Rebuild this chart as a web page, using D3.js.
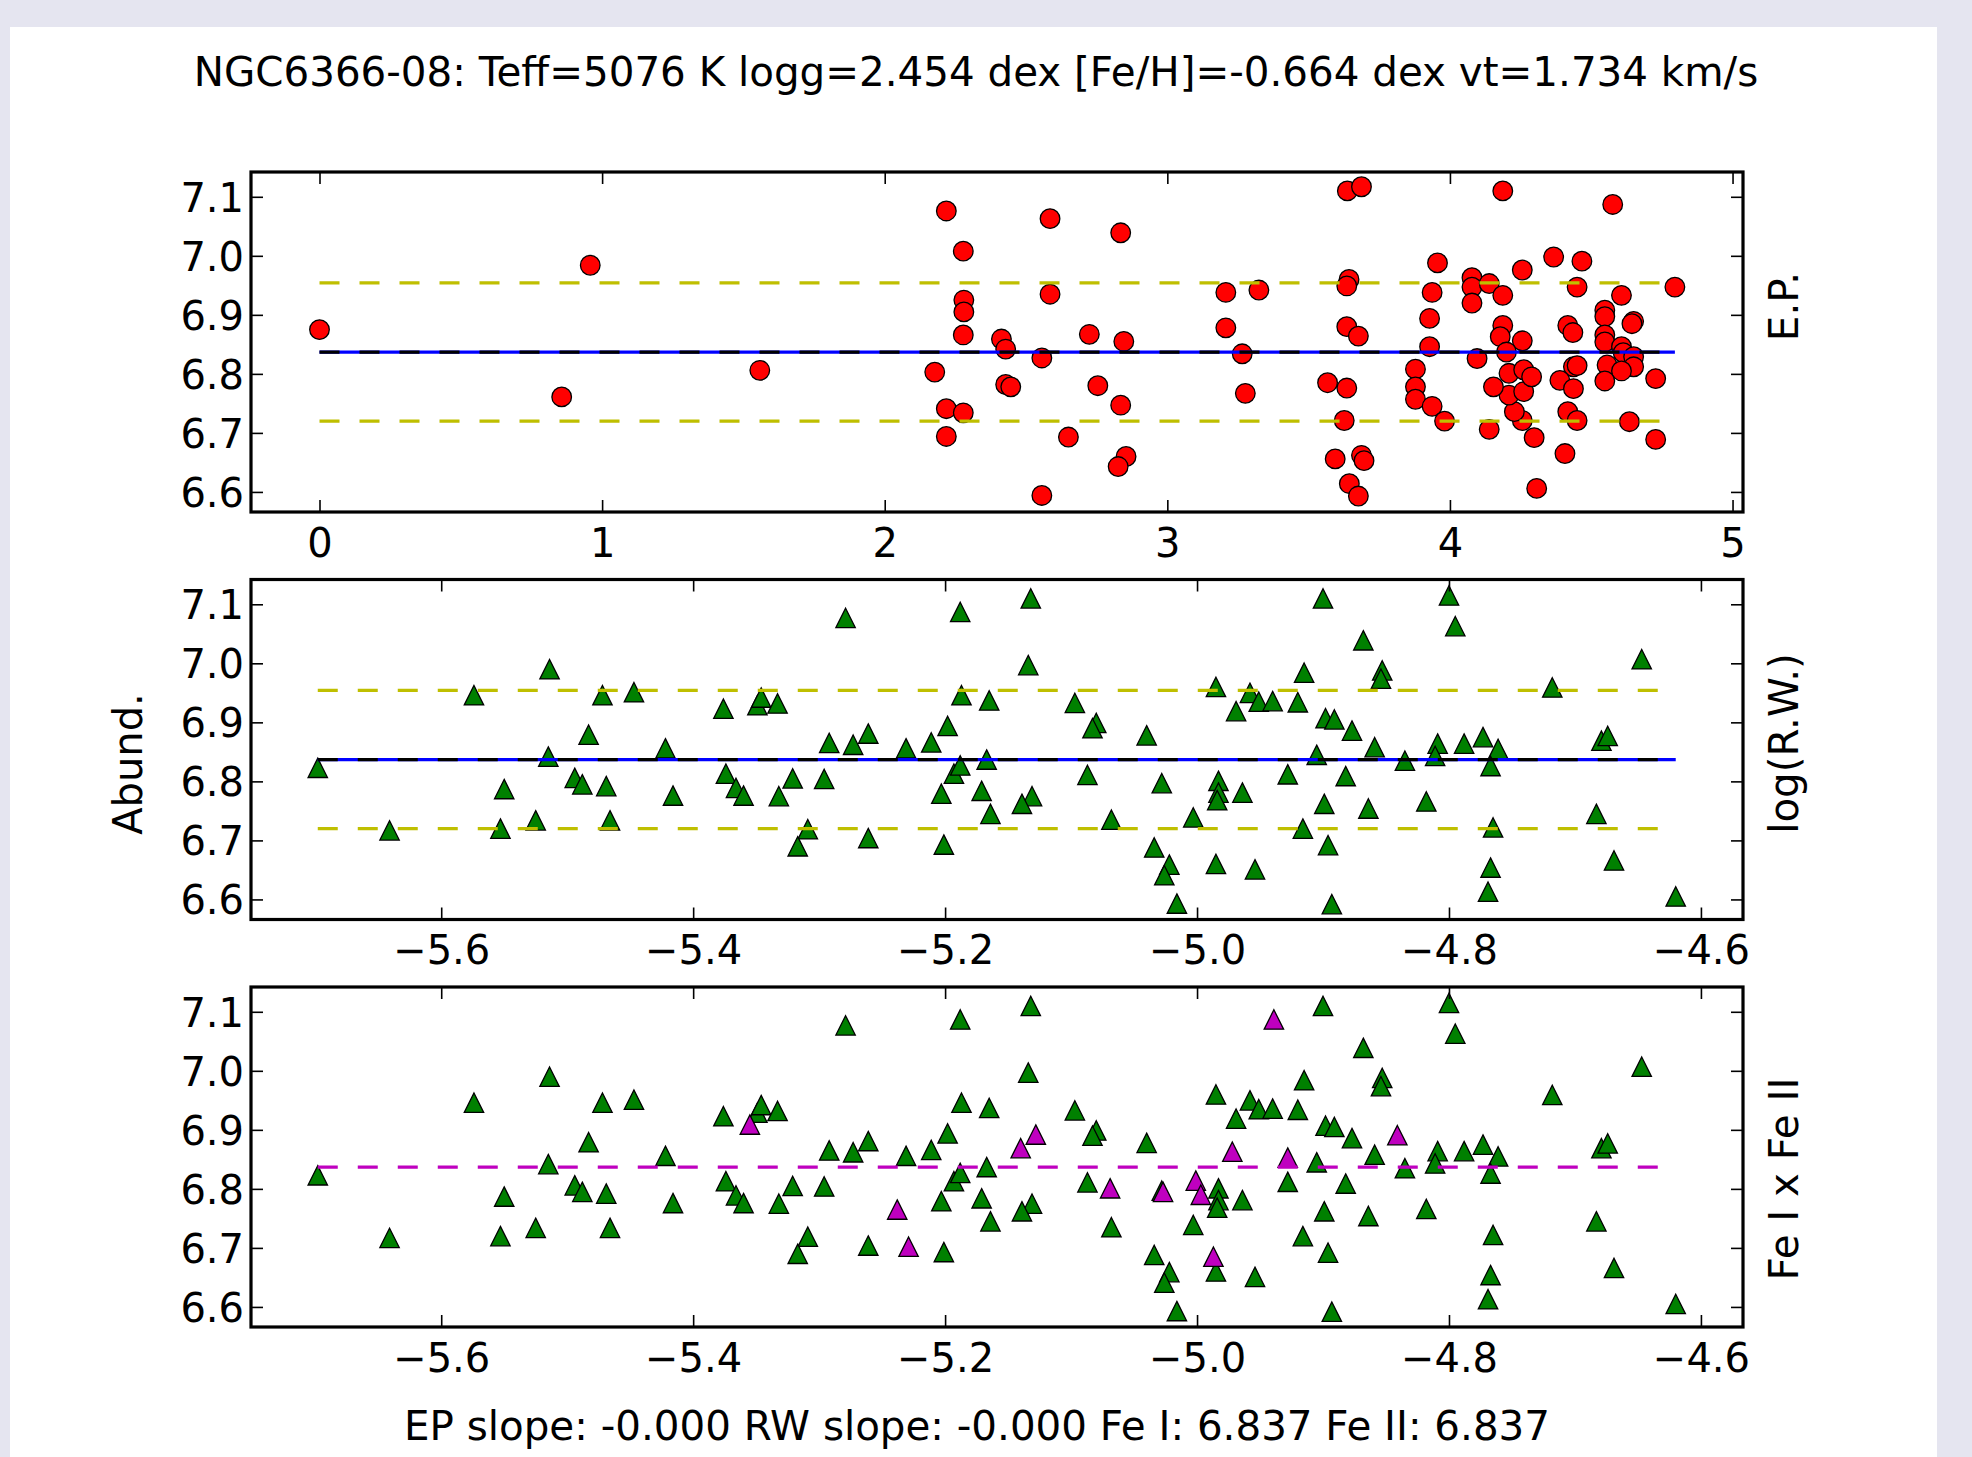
<!DOCTYPE html>
<html lang="en">
<head>
  <meta charset="UTF-8"/>
  <title>NGC6366-08 Fe abundances</title>
  <script src="https://cdn.jsdelivr.net/npm/d3@7/dist/d3.min.js"></script>
  <style>
    * { margin: 0; padding: 0; }
    body { background: #e5e5f0; }
    svg { display: block; }
    text { font-family: 'DejaVu Sans', sans-serif; fill: #000; }
  </style>
</head>
<body>
<svg id="chart" width="1972" height="1457"></svg>
<script>
const titleText  = 'NGC6366-08: Teff=5076 K logg=2.454 dex [Fe/H]=-0.664 dex vt=1.734 km/s'
const footerText = 'EP slope: -0.000 RW slope: -0.000 Fe I: 6.837 Fe II: 6.837'

const abundMean  = 6.837
const abundSigma = 0.117
const fe2Mean    = 6.837

const epTicks    = [0, 1, 2, 3, 4, 5]
const rwTicks    = [-5.6, -5.4, -5.2, -5.0, -4.8, -4.6]
const abundTicks = [6.6, 6.7, 6.8, 6.9, 7.0, 7.1]

// Fe I lines: [excitation potential, abundance]
const epFe1 = [
  [0.000, 6.875], [0.958, 6.984], [0.857, 6.761], [1.558, 6.806], [2.177, 6.803], [2.218, 7.076],
  [2.278, 7.008], [2.280, 6.925], [2.280, 6.905], [2.278, 6.866], [2.218, 6.741], [2.278, 6.734],
  [2.218, 6.694], [2.585, 7.063], [2.835, 7.039], [2.585, 6.935], [2.413, 6.859], [2.428, 6.842],
  [2.556, 6.827], [2.724, 6.867], [2.846, 6.855], [2.428, 6.782], [2.446, 6.778], [2.754, 6.780],
  [2.835, 6.747], [2.650, 6.693], [2.854, 6.660], [2.826, 6.643], [2.556, 6.594], [3.207, 6.938],
  [3.324, 6.942], [3.207, 6.878], [3.265, 6.834], [3.276, 6.767], [3.637, 7.110], [3.687, 7.117],
  [3.643, 6.960], [3.635, 6.949], [3.635, 6.880], [3.676, 6.864], [3.567, 6.785], [3.635, 6.776],
  [3.626, 6.721], [3.594, 6.656], [3.687, 6.662], [3.696, 6.653], [3.644, 6.614], [3.676, 6.593],
  [3.956, 6.988], [3.937, 6.938], [3.928, 6.894], [3.928, 6.846], [3.878, 6.808], [3.878, 6.778],
  [3.878, 6.757], [3.937, 6.745], [3.981, 6.720], [4.078, 6.963], [4.078, 6.947], [4.078, 6.920],
  [4.139, 6.953], [4.187, 6.933], [4.187, 7.110], [4.256, 6.976], [4.367, 6.998], [4.467, 6.991],
  [4.450, 6.947], [4.607, 6.933], [4.576, 7.087], [4.796, 6.947], [4.187, 6.882], [4.178, 6.863],
  [4.256, 6.856], [4.200, 6.837], [4.096, 6.826], [4.417, 6.882], [4.435, 6.870], [4.548, 6.908],
  [4.548, 6.897], [4.548, 6.866], [4.548, 6.854], [4.607, 6.846], [4.650, 6.889], [4.644, 6.885],
  [4.613, 6.836], [4.650, 6.829], [4.650, 6.812], [4.556, 6.815], [4.607, 6.805], [4.548, 6.788],
  [4.728, 6.792], [4.728, 6.689], [4.635, 6.719], [4.437, 6.812], [4.450, 6.814], [4.389, 6.789],
  [4.437, 6.775], [4.417, 6.736], [4.450, 6.721], [4.407, 6.665], [4.307, 6.606], [4.298, 6.692],
  [4.256, 6.721], [4.228, 6.736], [4.209, 6.764], [4.261, 6.770], [4.154, 6.778], [4.209, 6.801],
  [4.261, 6.807], [4.289, 6.795], [4.139, 6.706]
]

// Fe I lines: [log(RW), abundance]
const rwFe1 = [
  [-5.698, 6.823], [-5.641, 6.717], [-5.574, 6.946], [-5.514, 6.990], [-5.472, 6.946], [-5.447, 6.951],
  [-5.483, 6.879], [-5.515, 6.842], [-5.422, 6.856], [-5.550, 6.787], [-5.494, 6.806], [-5.488, 6.795],
  [-5.469, 6.792], [-5.416, 6.776], [-5.553, 6.720], [-5.525, 6.734], [-5.466, 6.734], [-5.376, 6.923],
  [-5.374, 6.813], [-5.366, 6.789], [-5.360, 6.776], [-5.349, 6.929], [-5.346, 6.942], [-5.333, 6.932],
  [-5.332, 6.775], [-5.321, 6.805], [-5.296, 6.804], [-5.292, 6.865], [-5.273, 6.862], [-5.261, 6.881],
  [-5.279, 7.077], [-5.309, 6.719], [-5.317, 6.690], [-5.261, 6.704], [-5.231, 6.856], [-5.211, 6.866],
  [-5.198, 6.894], [-5.188, 7.087], [-5.187, 6.946], [-5.165, 6.937], [-5.201, 6.693], [-5.203, 6.779],
  [-5.193, 6.813], [-5.188, 6.827], [-5.167, 6.837], [-5.171, 6.784], [-5.164, 6.745], [-5.132, 7.110],
  [-5.134, 6.997], [-5.131, 6.775], [-5.139, 6.762], [-5.097, 6.933], [-5.080, 6.899], [-5.083, 6.890],
  [-5.040, 6.878], [-5.087, 6.811], [-5.068, 6.735], [-5.028, 6.797], [-5.034, 6.688], [-5.022, 6.659],
  [-5.026, 6.641], [-5.016, 6.593], [-5.003, 6.739], [-4.985, 6.960], [-4.983, 6.801], [-4.983, 6.781],
  [-4.984, 6.768], [-4.985, 6.660], [-4.969, 6.919], [-4.958, 6.950], [-4.951, 6.935], [-4.940, 6.936],
  [-4.920, 6.934], [-4.915, 6.984], [-4.900, 7.110], [-4.868, 7.039], [-4.853, 6.988], [-4.854, 6.974],
  [-4.898, 6.907], [-4.891, 6.905], [-4.877, 6.886], [-4.964, 6.781], [-4.928, 6.812], [-4.905, 6.845],
  [-4.882, 6.809], [-4.859, 6.858], [-4.899, 6.762], [-4.864, 6.754], [-4.916, 6.720], [-4.954, 6.651],
  [-4.896, 6.692], [-4.893, 6.592], [-4.835, 6.835], [-4.818, 6.766], [-4.809, 6.864], [-4.811, 6.843],
  [-4.800, 7.115], [-4.795, 7.063], [-4.788, 6.864], [-4.773, 6.875], [-4.761, 6.855], [-4.767, 6.826],
  [-4.765, 6.722], [-4.767, 6.654], [-4.769, 6.613], [-4.718, 6.959], [-4.683, 6.745], [-4.679, 6.869],
  [-4.674, 6.877], [-4.647, 7.007], [-4.669, 6.666], [-4.620, 6.605]
]

// Fe II lines: [log(RW), abundance]
const rwFe2 = [
  [-5.355, 6.909], [-5.238, 6.765], [-5.229, 6.702], [-5.140, 6.869], [-5.128, 6.892], [-5.069, 6.801],
  [-5.027, 6.795], [-5.001, 6.814], [-4.997, 6.790], [-4.987, 6.685], [-4.972, 6.863], [-4.939, 7.087],
  [-4.928, 6.853], [-4.841, 6.891]
]

// --- layout ---
const left = 251, right = 1743, panelH = 340
const FONT = 40
const TITLE_FONT = 40.4

const svg = d3.select('#chart')
svg.append('rect').attr('width', 1972).attr('height', 1457).attr('fill', '#e5e5f0')
svg.append('rect').attr('x', 10).attr('y', 27).attr('width', 1927).attr('height', 1430).attr('fill', '#fff')

const tri = 'M0,-9.7L9.7,9.7L-9.7,9.7Z'

function panel(cfg) {
  const g = svg.append('g').attr('transform', `translate(0,${cfg.top})`)
  const x = d3.scaleLinear().domain(cfg.xDomain).range([left, right])
  const y = d3.scaleLinear().domain([6.566, 7.142]).range([panelH, 0])

  // markers
  for (const s of cfg.series) {
    const sel = g.append('g').selectAll('path').data(s.data).join('path')
      .attr('transform', d => `translate(${x(d[0])},${y(d[1])})`)
      .attr('fill', s.color).attr('stroke', '#000').attr('stroke-width', 1.3)
    if (s.shape === 'circle') sel.attr('d', d3.symbol(d3.symbolCircle, Math.PI * 9.8 * 9.8))
    else sel.attr('d', tri)
  }

  // horizontal reference lines, drawn over the markers
  const [x0, x1] = d3.extent(cfg.lineData, d => d[0])
  for (const l of cfg.lines) {
    g.append('line')
      .attr('x1', x(x0)).attr('x2', x(x1))
      .attr('y1', y(l.value)).attr('y2', y(l.value))
      .attr('stroke', l.color).attr('stroke-width', 3.2)
      .attr('stroke-dasharray', l.dash ? '20,20' : null)
  }

  // axes, ticks pointing inward on all four sides
  g.append('g').attr('class', 'ax-b').attr('transform', `translate(0,${panelH})`)
    .call(d3.axisBottom(x).tickValues(cfg.xTicks).tickFormat(cfg.xFormat).tickSize(-12).tickPadding(16.5))
  g.append('g').attr('transform', 'translate(0,0)')
    .call(d3.axisTop(x).tickValues(cfg.xTicks).tickFormat('').tickSize(-12))
  g.append('g').attr('class', 'ax-l').attr('transform', `translate(${left},0)`)
    .call(d3.axisLeft(y).tickValues(abundTicks).tickFormat(d3.format('.1f')).tickSize(-12).tickPadding(7))
  g.append('g').attr('transform', `translate(${right},0)`)
    .call(d3.axisRight(y).tickValues(abundTicks).tickFormat('').tickSize(-12))

  g.selectAll('.domain').remove()
  g.selectAll('.tick line').attr('stroke', '#000').attr('stroke-width', 1.6)
  g.selectAll('.tick text').attr('font-size', FONT).attr('font-family', 'DejaVu Sans').attr('fill', '#000')
  g.selectAll('.ax-l .tick text').attr('dy', '0.36em')

  // frame
  g.append('rect').attr('x', left).attr('y', 0).attr('width', right - left).attr('height', panelH)
    .attr('fill', 'none').attr('stroke', '#000').attr('stroke-width', 3.2)

  // right-hand label
  g.append('text')
    .attr('transform', `translate(1798,${cfg.rightLabelY - cfg.top}) rotate(-90)`)
    .attr('text-anchor', 'middle').attr('font-size', TITLE_FONT)
    .text(cfg.rightLabel)
}

const fmtEP = d3.format('d')
const fmtRW = d3.format('.1f')

panel({
  top: 172,
  xDomain: [-0.2424, 5.037],
  xTicks: epTicks, xFormat: fmtEP,
  series: [{ data: epFe1, color: '#ff0000', shape: 'circle' }],
  lineData: epFe1,
  lines: [
    { value: abundMean + abundSigma, color: '#bfbf00', dash: true },
    { value: abundMean - abundSigma, color: '#bfbf00', dash: true },
    { value: abundMean, color: '#0000ff', dash: false },
    { value: abundMean, color: '#000000', dash: true }
  ],
  rightLabel: 'E.P.', rightLabelY: 306.5
})

panel({
  top: 579.5,
  xDomain: [-5.751, -4.5666],
  xTicks: rwTicks, xFormat: fmtRW,
  series: [{ data: rwFe1, color: '#008000', shape: 'triangle' }],
  lineData: rwFe1,
  lines: [
    { value: abundMean + abundSigma, color: '#bfbf00', dash: true },
    { value: abundMean - abundSigma, color: '#bfbf00', dash: true },
    { value: abundMean, color: '#0000ff', dash: false },
    { value: abundMean, color: '#000000', dash: true }
  ],
  rightLabel: 'log(R.W.)', rightLabelY: 743.5
})

panel({
  top: 987,
  xDomain: [-5.751, -4.5666],
  xTicks: rwTicks, xFormat: fmtRW,
  series: [
    { data: rwFe1, color: '#008000', shape: 'triangle' },
    { data: rwFe2, color: '#bf00bf', shape: 'triangle' }
  ],
  lineData: rwFe1.concat(rwFe2),
  lines: [{ value: fe2Mean, color: '#bf00bf', dash: true }],
  rightLabel: 'Fe I x Fe II', rightLabelY: 1179
})

// left label, title and footer
svg.append('text')
  .attr('transform', 'translate(142,764) rotate(-90)')
  .attr('text-anchor', 'middle').attr('font-size', FONT)
  .text('Abund.')

svg.append('text').attr('x', 976).attr('y', 86)
  .attr('text-anchor', 'middle').attr('font-size', TITLE_FONT)
  .text(titleText)

svg.append('text').attr('x', 977).attr('y', 1440)
  .attr('text-anchor', 'middle').attr('font-size', TITLE_FONT)
  .text(footerText)
</script>
</body>
</html>
